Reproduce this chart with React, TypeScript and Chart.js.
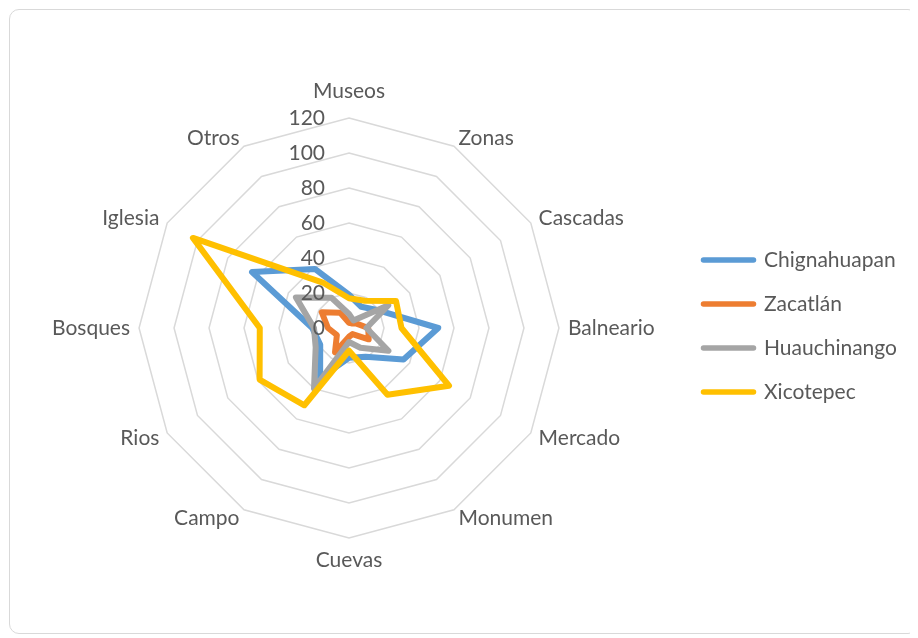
import React, { useEffect, useRef } from 'react';
import { Chart, registerables } from 'chart.js';

Chart.register(...registerables);

const categories = ['Museos', 'Zonas', 'Cascadas', 'Balneario', 'Mercado', 'Monumen', 'Cuevas', 'Campo', 'Rios', 'Bosques', 'Iglesia', 'Otros'];
const seriesNames = ['Chignahuapan', 'Zacatlán', 'Huauchinango', 'Xicotepec'];
const chignahuapan = [19, 14, 20, 51, 36, 19, 17, 33, 19, 21, 64, 39];
const zacatlan = [3, 3, 5, 11, 13, 4, 5, 16, 8, 12, 18, 10];
const huauchinango = [8, 5, 26, 10, 26, 13, 8, 40, 22, 20, 35, 20];
const xicotepec = [17, 18, 31, 30, 66, 44, 13, 51, 59, 51, 103, 30];
const seriesValues = [chignahuapan, zacatlan, huauchinango, xicotepec];
const seriesColors = ['#5B9BD5', '#ED7D31', '#A5A5A5', '#FFC000'];
const seriesOrder = [3, 2, 1, 0];
const axisMin = 0;
const axisMax = 120;
const axisStep = 20;

const FONT = 'Lato, "Open Sans", sans-serif';
const TEXT = '#595959';

const tickLabelPlugin = {
  id: 'tickLabelsLeft',
  afterDatasetsDraw(chart: any) {
    const scale = chart.scales.r;
    const ctx = chart.ctx;
    ctx.save();
    ctx.font = `21px ${FONT}`;
    ctx.fillStyle = TEXT;
    ctx.textAlign = 'right';
    ctx.textBaseline = 'middle';
    scale.ticks.forEach((t: any) => {
      const d = scale.getDistanceFromCenterForValue(t.value);
      ctx.fillText(String(t.label), scale.xCenter - 24, scale.yCenter - d);
    });
    ctx.restore();
  },
};

export default function App() {
  const ref = useRef<HTMLCanvasElement | null>(null);

  useEffect(() => {
    if (!ref.current) return;
    const chart = new Chart(ref.current, {
      type: 'radar',
      data: {
        labels: categories,
        datasets: seriesNames.map((name, i) => ({
          label: name,
          data: seriesValues[i],
          borderColor: seriesColors[i],
          backgroundColor: seriesColors[i],
          pointBorderColor: seriesColors[i],
          pointBackgroundColor: seriesColors[i],
          borderWidth: 6,
          pointBorderWidth: 5,
          borderJoinStyle: 'round',
          fill: false,
          pointRadius: 0,
          pointHoverRadius: 0,
          order: seriesOrder[i],
        })),
      },
      options: {
        animation: false,
        responsive: false,
        maintainAspectRatio: false,
        layout: { padding: { left: 13, right: 10, top: 79, bottom: 70 } },
        plugins: {
          tooltip: { enabled: false },
          legend: {
            position: 'right',
            maxWidth: 230,
            labels: {
              usePointStyle: true,
              pointStyle: 'line',
              pointStyleWidth: 50,
              padding: 23,
              color: TEXT,
              font: { family: FONT, size: 21 },
              sort: (a: any, b: any) => a.datasetIndex - b.datasetIndex,
              generateLabels: (c: any) => {
                const items = (Chart.defaults.plugins.legend.labels as any).generateLabels(c);
                items.forEach((it: any) => {
                  it.lineCap = 'round';
                  it.lineWidth = 5.5;
                  it.strokeStyle = seriesColors[it.datasetIndex];
                  it.fillStyle = seriesColors[it.datasetIndex];
                });
                return items;
              },
            },
          },
        },
        scales: {
          r: {
            min: axisMin,
            max: axisMax,
            ticks: { stepSize: axisStep, display: false },
            grid: { color: '#D9D9D9', lineWidth: 1.5, circular: false },
            angleLines: { display: false },
            pointLabels: {
              color: TEXT,
              font: { family: FONT, size: 21, lineHeight: 0.05 },
              padding: (ctx: any) => (ctx.index === 0 ? 26 : ctx.index === 6 ? 22 : 9),
            },
          },
        },
      },
      plugins: [tickLabelPlugin],
    } as any);
    return () => chart.destroy();
  }, []);

  return (
    <div
      style={{
        position: 'relative',
        marginLeft: 1,
        marginTop: 1,
        width: 909,
        height: 625,
        boxSizing: 'border-box',
        border: '1px solid #D9D9D9',
        borderRadius: 10,
        background: '#FFFFFF',
      }}
    >
      <canvas
        ref={ref}
        width={907}
        height={623}
        style={{ position: 'absolute', left: 0, top: 0, width: 907, height: 623 }}
      />
    </div>
  );
}
